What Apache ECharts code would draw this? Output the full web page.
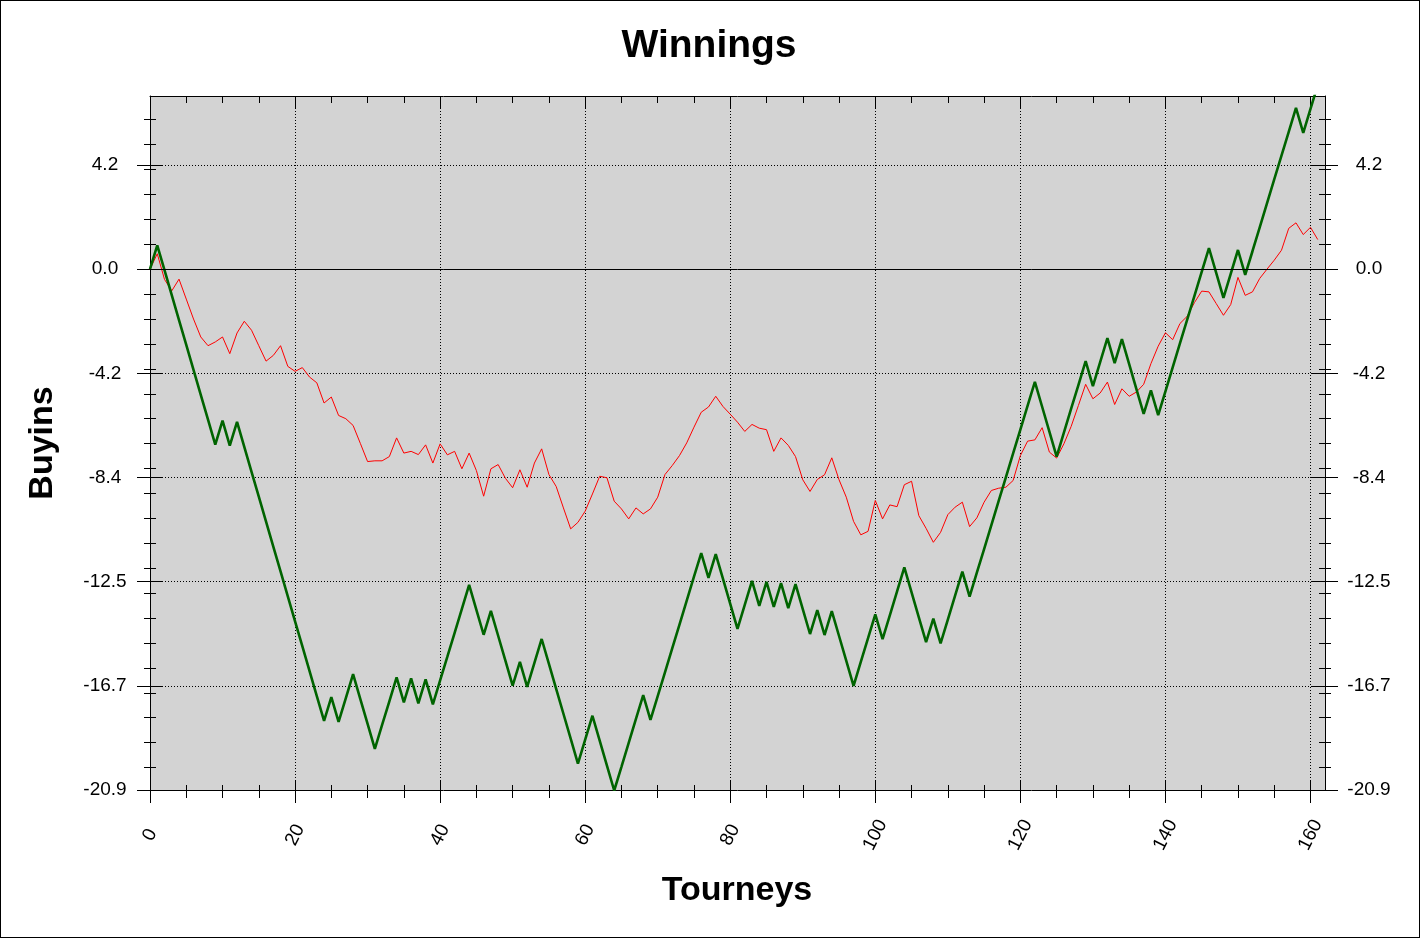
<!DOCTYPE html>
<html><head><meta charset="utf-8">
<script src="https://cdn.jsdelivr.net/npm/echarts@6/dist/echarts.min.js"></script>
<style>
html,body{margin:0;padding:0;background:#fff}
#c{width:1420px;height:938px}
#b{position:absolute;left:0;top:0;width:1420px;height:938px;box-sizing:border-box;border:1px solid #000;pointer-events:none}
</style>
</head><body><div id="c"></div><div id="b"></div>
<script>
// Actual winnings (red), in buy-ins
const winningsRed = [
0,0.62,-0.41,-0.87,-0.40,-1.20,-2.00,-2.72,-3.07,-2.92,
-2.72,-3.39,-2.56,-2.09,-2.45,-3.07,-3.69,-3.46,-3.07,-3.90,
-4.10,-3.95,-4.33,-4.56,-5.37,-5.13,-5.87,-6.00,-6.27,-6.99,
-7.72,-7.69,-7.69,-7.52,-6.77,-7.38,-7.31,-7.44,-7.05,-7.78,
-7.01,-7.45,-7.31,-8.01,-7.38,-8.08,-9.11,-8.01,-7.84,-8.39,
-8.77,-8.05,-8.75,-7.78,-7.21,-8.24,-8.72,-9.58,-10.42,-10.16,
-9.71,-9.02,-8.31,-8.37,-9.31,-9.62,-10.02,-9.58,-9.82,-9.62,
-9.15,-8.24,-7.88,-7.48,-6.97,-6.34,-5.74,-5.53,-5.10,-5.51,
-5.82,-6.14,-6.51,-6.23,-6.38,-6.44,-7.31,-6.77,-7.07,-7.52,
-8.45,-8.92,-8.44,-8.25,-7.57,-8.45,-9.15,-10.12,-10.66,-10.52,
-9.28,-10.02,-9.46,-9.53,-8.65,-8.51,-9.89,-10.40,-10.96,-10.56,
-9.85,-9.55,-9.35,-10.33,-9.98,-9.35,-8.88,-8.79,-8.75,-8.48,
-7.48,-6.90,-6.85,-6.36,-7.34,-7.58,-7.01,-6.31,-5.47,-4.62,
-5.20,-4.97,-4.53,-5.43,-4.80,-5.10,-4.93,-4.62,-3.79,-3.09,
-2.55,-2.83,-2.18,-1.89,-1.34,-0.88,-0.91,-1.38,-1.85,-1.42,
-0.33,-1.05,-0.91,-0.37,0.00,0.36,0.76,1.64,1.86,1.39,
1.68,1.19];

// Win/loss winnings (green), in buy-ins
const winningsGreen = [
0,0.96,-0.04,-1.04,-2.04,-3.04,-4.04,-5.04,-6.04,-7.04,
-6.08,-7.08,-6.13,-7.13,-8.13,-9.13,-10.13,-11.13,-12.13,-13.13,
-14.13,-15.13,-16.13,-17.13,-18.13,-17.17,-18.17,-17.21,-16.25,-17.25,
-18.25,-19.25,-18.29,-17.34,-16.38,-17.38,-16.42,-17.42,-16.46,-17.46,
-16.50,-15.55,-14.59,-13.63,-12.67,-13.67,-14.67,-13.71,-14.71,-15.71,
-16.71,-15.76,-16.76,-15.80,-14.84,-15.84,-16.84,-17.84,-18.84,-19.84,
-18.88,-17.92,-18.92,-19.92,-20.92,-19.97,-19.01,-18.05,-17.09,-18.09,
-17.13,-16.18,-15.22,-14.26,-13.30,-12.34,-11.39,-12.39,-11.43,-12.43,
-13.43,-14.43,-13.47,-12.51,-13.51,-12.55,-13.55,-12.60,-13.60,-12.64,
-13.64,-14.64,-13.68,-14.68,-13.72,-14.72,-15.72,-16.72,-15.76,-14.81,
-13.85,-14.85,-13.89,-12.93,-11.97,-12.97,-13.97,-14.97,-14.02,-15.02,
-14.06,-13.10,-12.14,-13.14,-12.18,-11.23,-10.27,-9.31,-8.35,-7.39,
-6.44,-5.48,-4.52,-5.52,-6.52,-7.52,-6.56,-5.60,-4.65,-3.69,
-4.69,-3.73,-2.77,-3.77,-2.81,-3.81,-4.81,-5.81,-4.86,-5.86,
-4.90,-3.94,-2.98,-2.02,-1.07,-0.11,0.85,-0.15,-1.15,-0.19,
0.77,-0.23,0.72,1.68,2.64,3.60,4.56,5.51,6.47,5.47,
6.43,7.39];

const tourneys = winningsRed.map((_, i) => i);

// Tick labels / tick positions
const yTickValues = [-20.9, -16.72, -12.54, -8.36, -4.18, 0, 4.18];
const yMinorValues = [-20,-19,-18,-17,-16,-15,-14,-13,-12,-11,-10,-9,-8,-7,-6,-5,-4,-3,-2,-1,0,1,2,3,4,5,6];
const xTickValues = [0, 20, 40, 60, 80, 100, 120, 140, 160];
const xMinorValues = [5,10,15,25,30,35,45,50,55,65,70,75,85,90,95,105,110,115,125,130,135,145,150,155];

const FONT = 'Arial, "Liberation Sans", sans-serif';
const X_MIN = 0, X_MAX = 162, Y_MIN = -20.9, Y_MAX = 6.95;

function tickX(position, inside, length, values) {
  return {
    type: 'value', position, min: X_MIN, max: X_MAX, interval: 20,
    axisLine: { show: false, onZero: false }, axisLabel: { show: false }, splitLine: { show: false },
    axisTick: { show: true, inside, length, customValues: values, lineStyle: { color: '#000', width: 1 } }
  };
}
function tickY(position, inside, length, values) {
  return {
    type: 'value', position, min: Y_MIN, max: Y_MAX, interval: 4.18,
    axisLine: { show: false, onZero: false }, axisLabel: { show: false }, splitLine: { show: false },
    axisTick: { show: true, inside, length, customValues: values, lineStyle: { color: '#000', width: 1 } }
  };
}

const chart = echarts.init(document.getElementById('c'), null, { renderer: 'canvas' });

const option = {
  animation: false,
  backgroundColor: '#fff',
  grid: { left: 150, right: 95, top: 96, bottom: 148, show: true, backgroundColor: '#d3d3d3', borderWidth: 0 },
  graphic: [
    { type: 'text', x: 709, y: 46, style: { text: 'Winnings', font: 'bold 39px ' + FONT, fill: '#000', align: 'center', verticalAlign: 'middle' } },
    { type: 'text', x: 737, y: 891, style: { text: 'Tourneys', font: 'bold 34px ' + FONT, fill: '#000', align: 'center', verticalAlign: 'middle' } },
    { type: 'text', x: 43, y: 443, rotation: Math.PI / 2, style: { text: 'Buyins', font: 'bold 34px ' + FONT, fill: '#000', align: 'center', verticalAlign: 'middle' } }
  ],
  xAxis: [
    {
      type: 'value', position: 'bottom', min: X_MIN, max: X_MAX, interval: 20,
      axisLine: { show: true, onZero: false, lineStyle: { color: '#000', width: 1 } },
      axisTick: { show: true, inside: false, length: 13, customValues: xTickValues, lineStyle: { color: '#000' } },
      axisLabel: { show: true, customValues: xTickValues, rotate: 63, align: 'center', verticalAlign: 'middle', margin: 45, color: '#000', fontSize: 19, fontFamily: FONT },
      splitLine: { show: true, lineStyle: { color: '#000', width: 1, type: [1, 2] } }
    },
    tickX('bottom', true, 10, xTickValues),
    tickX('bottom', false, 8, xMinorValues),
    tickX('bottom', true, 5, xMinorValues),
    {
      type: 'value', position: 'top', min: X_MIN, max: X_MAX, interval: 20,
      axisLine: { show: true, onZero: false, lineStyle: { color: '#000', width: 1 } },
      axisLabel: { show: false }, splitLine: { show: false },
      axisTick: { show: true, inside: true, length: 12, customValues: xTickValues, lineStyle: { color: '#000' } }
    },
    tickX('top', true, 7, xMinorValues)
  ],
  yAxis: [
    {
      type: 'value', position: 'left', min: Y_MIN, max: Y_MAX, interval: 4.18,
      axisLine: { show: true, onZero: false, lineStyle: { color: '#000', width: 1 } },
      axisTick: { show: true, inside: false, length: 13, customValues: yTickValues, lineStyle: { color: '#000' } },
      axisLabel: { show: true, customValues: yTickValues, formatter: v => v.toFixed(1), align: 'center', margin: 45, color: '#000', fontSize: 19, fontFamily: FONT },
      splitLine: { show: true, lineStyle: { color: '#000', width: 1, type: [1, 2] } }
    },
    tickY('left', true, 13, yTickValues),
    tickY('left', false, 6, yMinorValues),
    tickY('left', true, 6, yMinorValues),
    {
      type: 'value', position: 'right', min: Y_MIN, max: Y_MAX, interval: 4.18,
      axisLine: { show: true, onZero: false, lineStyle: { color: '#000', width: 1 } },
      axisTick: { show: true, inside: false, length: 13, customValues: yTickValues, lineStyle: { color: '#000' } },
      axisLabel: { show: true, customValues: yTickValues, formatter: v => v.toFixed(1), align: 'center', margin: 44, color: '#000', fontSize: 19, fontFamily: FONT },
      splitLine: { show: false }
    },
    tickY('right', true, 13, yTickValues),
    tickY('right', false, 6, yMinorValues),
    tickY('right', true, 6, yMinorValues)
  ],
  series: [
    {
      name: 'Winnings', type: 'line', xAxisIndex: 0, yAxisIndex: 0,
      data: tourneys.map((t, i) => [t, winningsRed[i]]),
      showSymbol: false, symbol: 'none', clip: true,
      lineStyle: { color: '#ff0000', width: 1 },
      markLine: {
        silent: true, symbol: ['none', 'none'], label: { show: false },
        lineStyle: { color: '#000', type: 'solid', width: 1 },
        data: [{ yAxis: 0 }]
      }
    },
    {
      name: 'Win/Loss', type: 'line', xAxisIndex: 0, yAxisIndex: 0,
      data: tourneys.map((t, i) => [t, winningsGreen[i]]),
      showSymbol: false, symbol: 'none', clip: true,
      lineStyle: { color: '#006400', width: 2.6 }
    }
  ]
};
chart.setOption(option);
</script>
</body></html>
